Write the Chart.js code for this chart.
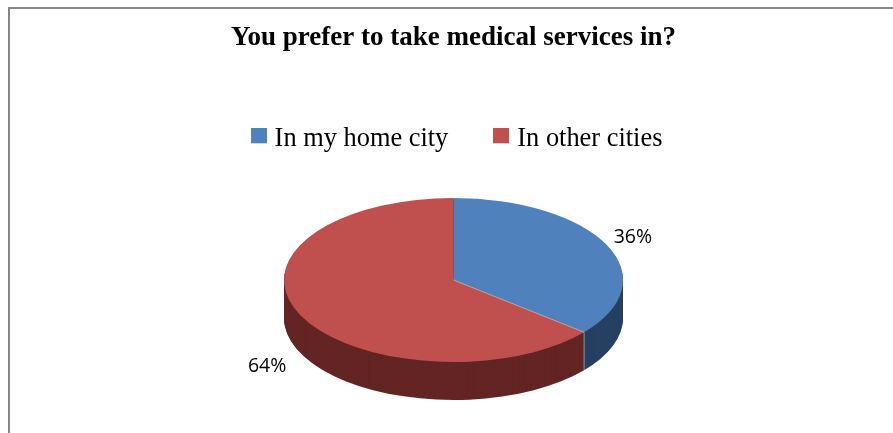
<!DOCTYPE html>
<html>
<head>
<meta charset="utf-8">
<title>You prefer to take medical services in?</title>
<script src="https://cdn.jsdelivr.net/npm/chart.js@4"></script>
<style>
  html,body{margin:0;padding:0;background:#fff;overflow:hidden}
  #frame{position:absolute;left:8px;top:7px;width:885px;height:426px;box-sizing:border-box;border-left:2px solid #868686;border-top:2px solid #868686}
  #chart{position:absolute;left:0;top:0}
</style>
</head>
<body>
<div id="frame"></div>
<canvas id="chart" width="893" height="433"></canvas>
<script>
const chartTitle = 'You prefer to take medical services in?';
const categories = ['In my home city', 'In other cities'];
const shares = [36, 64];
const faceColors = ['#4F81BD', '#C0504D'];
const wallColors = ['#254061', '#632523'];

// pie is tilted by squashing the circle, with a wall below it
const tilt = 82 / 169.5;
const wallDepth = 38;
const labelOffsets = [[26, -8], [-33, 52]];

// legend swatch as a small canvas, chart.js ties the box/text gap to font size otherwise
// (taller than the box so it sits a little above the text centre)
function swatch(color) {
  const c = document.createElement('canvas');
  c.width = 16;
  c.height = 21;
  const g = c.getContext('2d');
  g.fillStyle = color;
  g.fillRect(0, 0, 16, 15);
  return c;
}

const tiltedPie = {
  id: 'tiltedPie',
  afterLayout(chart) {
    chart.legend.left += 5.6;
    chart.legend.right += 5.6;
  },
  beforeDatasetDraw(chart) {
    const ctx = chart.ctx;
    const arcs = chart.getDatasetMeta(0).data;
    const cy = arcs[0].y;

    ctx.save();
    ctx.translate(0, cy);
    ctx.scale(1, tilt);
    ctx.translate(0, -cy);

    for (let d = wallDepth; d > 0; d--) {
      arcs.forEach((a, i) => {
        ctx.beginPath();
        ctx.moveTo(a.x, a.y + d / tilt);
        ctx.arc(a.x, a.y + d / tilt, a.outerRadius, a.startAngle, a.endAngle);
        ctx.closePath();
        ctx.fillStyle = wallColors[i];
        ctx.fill();
      });
    }
  },
  afterDatasetDraw(chart) {
    const ctx = chart.ctx;
    ctx.restore();

    // faint seam where the slices meet at the front
    const a = chart.getDatasetMeta(0).data[0];
    const rimX = a.x + a.outerRadius * Math.cos(a.endAngle);
    const rimY = a.y + a.outerRadius * tilt * Math.sin(a.endAngle);
    ctx.save();
    ctx.lineWidth = 1;
    ctx.strokeStyle = 'rgba(255,255,255,0.45)';
    ctx.beginPath();
    ctx.moveTo(a.x, a.y);
    ctx.lineTo(rimX, rimY);
    ctx.lineTo(rimX, rimY + wallDepth);
    ctx.stroke();
    ctx.restore();
  },
  afterDraw(chart) {
    const ctx = chart.ctx;
    const arcs = chart.getDatasetMeta(0).data;
    ctx.save();
    ctx.font = '19.5px "Open Sans"';
    ctx.fillStyle = '#000';
    ctx.textAlign = 'center';
    ctx.textBaseline = 'middle';
    arcs.forEach((a, i) => {
      const mid = (a.startAngle + a.endAngle) / 2;
      const x = a.x + a.outerRadius * Math.cos(mid) + labelOffsets[i][0];
      const y = a.y + a.outerRadius * tilt * Math.sin(mid) + labelOffsets[i][1];
      ctx.fillText(shares[i] + '%', x, y);
    });
    ctx.restore();
  }
};

new Chart(document.getElementById('chart').getContext('2d'), {
  type: 'pie',
  plugins: [tiltedPie],
  data: {
    labels: categories,
    datasets: [{
      data: shares,
      backgroundColor: faceColors,
      borderWidth: 0,
      radius: 169.5,
      clip: false
    }]
  },
  options: {
    responsive: false,
    animation: false,
    layout: {padding: {left: 14, top: 22, bottom: 35}},
    plugins: {
      tooltip: {enabled: false},
      title: {
        display: true,
        text: chartTitle,
        color: '#000',
        font: {family: '"Liberation Serif"', size: 27, weight: 'bold'},
        padding: {top: 0, bottom: 21}
      },
      legend: {
        position: 'top',
        labels: {
          color: '#000',
          font: {family: '"Liberation Serif"', size: 26.4},
          usePointStyle: true,
          pointStyleWidth: 5.6,
          padding: 50.2,
          generateLabels: () => categories.map((text, i) => ({
            text,
            fontColor: '#000',
            pointStyle: swatch(faceColors[i]),
            lineWidth: 0,
            hidden: false,
            index: i
          }))
        }
      }
    }
  }
});
</script>
</body>
</html>
